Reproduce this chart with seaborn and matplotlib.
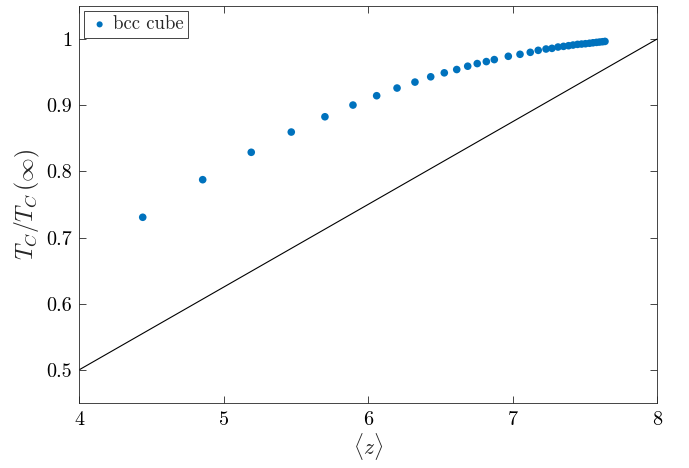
import matplotlib
matplotlib.use("Agg")
import matplotlib.pyplot as plt
import matplotlib.ticker as mticker
import seaborn as sns
import pandas as pd

# data
z_avg = [4.441, 4.856, 5.192, 5.469, 5.702, 5.896, 6.060, 6.201, 6.325, 6.434,
         6.528, 6.614, 6.690, 6.756, 6.819, 6.874, 6.971, 7.052, 7.123, 7.178,
         7.232, 7.273, 7.315, 7.353, 7.388, 7.419, 7.450, 7.478, 7.505, 7.533,
         7.557, 7.581, 7.602, 7.623, 7.640]
tc_ratio = [0.7307, 0.7875, 0.8289, 0.8595, 0.8826, 0.9003, 0.9144, 0.9260, 0.935, 0.943,
            0.949, 0.954, 0.959, 0.963, 0.966, 0.969, 0.974, 0.977, 0.980, 0.983,
            0.985, 0.986, 0.988, 0.989, 0.990, 0.991, 0.992, 0.9925, 0.993, 0.9937,
            0.9944, 0.995, 0.9955, 0.996, 0.9965]
line_z = [4, 8]
line_ratio = [0.5, 1.0]
x_ticks = [4, 5, 6, 7, 8]
y_ticks = [0.5, 0.6, 0.7, 0.8, 0.9, 1.0]
series_label = "bcc cube"

sns.set_style("ticks")
plt.rcParams.update({
    "font.family": "serif",
    "font.serif": ["cmr10", "DejaVu Serif"],
    "mathtext.fontset": "cm",
    "axes.formatter.use_mathtext": True,
    "axes.edgecolor": "#262626",
    "axes.linewidth": 0.6,
    "xtick.direction": "in",
    "ytick.direction": "in",
    "xtick.top": True,
    "ytick.right": True,
    "xtick.color": "#262626",
    "ytick.color": "#262626",
    "xtick.labelcolor": "black",
    "ytick.labelcolor": "black",
})

fig = plt.figure(figsize=(6.89, 4.68), dpi=100)
ax = fig.add_axes([79/689, 1-403/468, (657-79)/689, (403-6)/468])

df = pd.DataFrame({"z": z_avg, "r": tc_ratio})
ldf = pd.DataFrame({"z": line_z, "r": line_ratio})

sns.lineplot(data=ldf, x="z", y="r", ax=ax, color="black", linewidth=0.8)
sns.scatterplot(data=df, x="z", y="r", ax=ax, color="#0072BD", s=30,
                edgecolor="none", label=series_label, zorder=3)

ax.set_xlim(4, 8)
ax.set_ylim(0.45, 1.05)
ax.set_xticks(x_ticks)
ax.set_yticks(y_ticks)
ax.xaxis.set_major_formatter(mticker.FuncFormatter(lambda v, p: f"{v:g}"))
ax.yaxis.set_major_formatter(mticker.FuncFormatter(lambda v, p: f"{v:g}"))
ax.tick_params(axis="both", which="major", length=5, width=0.6, labelsize=14.5)
ax.tick_params(axis="y", pad=5)
ax.tick_params(axis="x", pad=6)
ax.set_xlabel(r"$\langle z\rangle$", fontsize=15.5, labelpad=1)
ax.set_ylabel(r"$T_C/T_C\,(\infty)$", fontsize=17, labelpad=3)

leg = ax.legend(loc="upper left", frameon=True, fancybox=False, fontsize=13.5,
                handletextpad=0.1, borderpad=0.25, handlelength=1.2,
                borderaxespad=0.25, markerscale=0.8)
leg.get_frame().set_edgecolor("#262626")
leg.get_frame().set_linewidth(0.6)
leg.get_frame().set_alpha(1)

fig.savefig("out.png", dpi=100)
